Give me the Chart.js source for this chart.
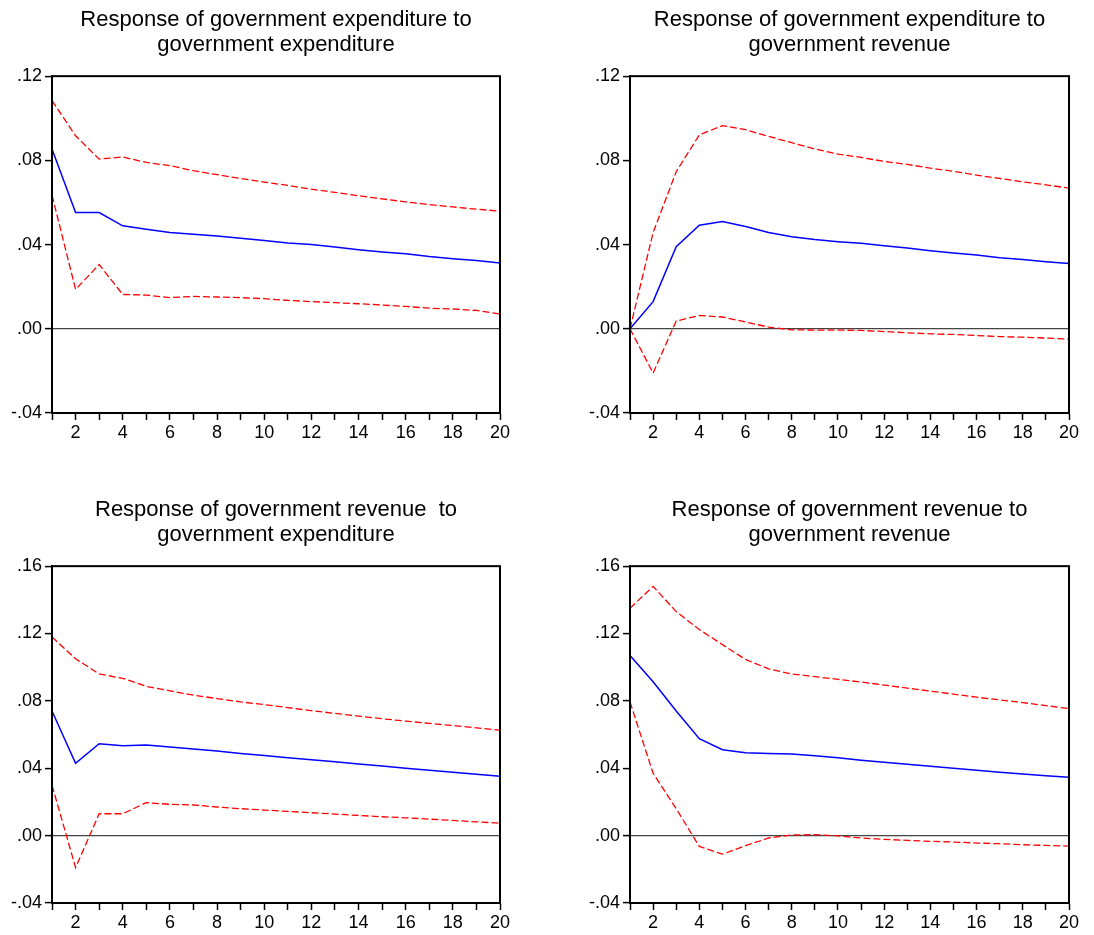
<!DOCTYPE html>
<html><head><meta charset="utf-8">
<script src="https://cdn.jsdelivr.net/npm/chart.js@4.4.1/dist/chart.umd.min.js"></script>
<style>
html,body{margin:0;padding:0;background:#fff;}
#wrap{position:relative;width:1094px;height:935px;overflow:hidden;}
canvas{position:absolute;}
</style></head><body>
<div id="wrap">
<canvas id="c1" width="547" height="445" style="left:0px;top:0px"></canvas>
<canvas id="c2" width="547" height="445" style="left:547px;top:0px"></canvas>
<canvas id="c3" width="547" height="445" style="left:0px;top:490px"></canvas>
<canvas id="c4" width="547" height="445" style="left:547px;top:490px"></canvas>
</div>
<script>
const periods = [1,2,3,4,5,6,7,8,9,10,11,12,13,14,15,16,17,18,19,20];
const xTickLabels = ['','2','','4','','6','','8','','10','','12','','14','','16','','18','','20'];
const yTickLabelsTop = ['-.04','.00','.04','.08','.12'];
const yTickLabelsBottom = ['-.04','.00','.04','.08','.12','.16'];

const titleGeGe = ['Response of government expenditure to', 'government expenditure'];
const titleGeGr = ['Response of government expenditure to', 'government revenue'];
const titleGrGe = ['Response of government revenue  to', 'government expenditure'];
const titleGrGr = ['Response of government revenue to', 'government revenue'];

// Response of government expenditure to government expenditure
const geGeResp  = [0.0854,0.0552,0.0552,0.0489,0.0473,0.0457,0.0449,0.0441,0.0430,0.0419,0.0408,0.0400,0.0389,0.0376,0.0365,0.0356,0.0343,0.0333,0.0324,0.0313];
const geGeUpper = [0.1084,0.0917,0.0806,0.0816,0.0790,0.0775,0.0751,0.0732,0.0714,0.0697,0.0681,0.0663,0.0648,0.0632,0.0617,0.0603,0.0590,0.0579,0.0568,0.0559];
const geGeLower = [0.0635,0.0187,0.0305,0.0163,0.0160,0.0148,0.0154,0.0151,0.0148,0.0143,0.0135,0.0129,0.0124,0.0119,0.0113,0.0106,0.0098,0.0094,0.0087,0.0070];

// Response of government expenditure to government revenue
const geGrResp  = [0.0000,0.0129,0.0390,0.0492,0.0510,0.0486,0.0457,0.0437,0.0424,0.0414,0.0406,0.0394,0.0384,0.0371,0.0360,0.0351,0.0338,0.0329,0.0319,0.0310];
const geGrUpper = [0.0000,0.0457,0.0746,0.0921,0.0965,0.0946,0.0914,0.0884,0.0854,0.0830,0.0814,0.0795,0.0781,0.0763,0.0748,0.0730,0.0714,0.0698,0.0684,0.0668];
const geGrLower = [0.0000,-0.0210,0.0037,0.0063,0.0056,0.0032,0.0008,-0.0005,-0.0006,-0.0006,-0.0008,-0.0013,-0.0019,-0.0024,-0.0027,-0.0032,-0.0037,-0.0040,-0.0044,-0.0049];

// Response of government revenue to government expenditure
const grGeResp  = [0.0740,0.0430,0.0546,0.0534,0.0538,0.0526,0.0514,0.0502,0.0488,0.0476,0.0462,0.0450,0.0438,0.0426,0.0414,0.0400,0.0388,0.0376,0.0364,0.0352];
const grGeUpper = [0.1180,0.1050,0.0960,0.0934,0.0886,0.0860,0.0834,0.0814,0.0794,0.0778,0.0760,0.0742,0.0726,0.0710,0.0694,0.0680,0.0666,0.0654,0.0640,0.0626];
const grGeLower = [0.0300,-0.0190,0.0130,0.0130,0.0196,0.0186,0.0182,0.0170,0.0160,0.0152,0.0144,0.0136,0.0128,0.0120,0.0112,0.0106,0.0098,0.0090,0.0082,0.0074];

// Response of government revenue to government revenue
const grGrResp  = [0.1070,0.0914,0.0740,0.0576,0.0510,0.0492,0.0488,0.0484,0.0474,0.0462,0.0448,0.0436,0.0424,0.0412,0.0400,0.0388,0.0376,0.0366,0.0356,0.0346];
const grGrUpper = [0.1350,0.1480,0.1330,0.1224,0.1134,0.1046,0.0990,0.0960,0.0944,0.0928,0.0912,0.0894,0.0876,0.0858,0.0840,0.0822,0.0806,0.0790,0.0772,0.0754];
const grGrLower = [0.0794,0.0370,0.0160,-0.0064,-0.0110,-0.0060,-0.0014,0.0004,0.0006,-0.0002,-0.0014,-0.0022,-0.0028,-0.0034,-0.0038,-0.0044,-0.0048,-0.0054,-0.0058,-0.0062];

Chart.defaults.font.family = "'Liberation Sans', Arial, Helvetica, sans-serif";
Chart.defaults.color = '#000';

const framePlugin = {
  id: 'frame',
  afterDatasetsDraw(chart) {
    const a = chart.chartArea, ctx = chart.ctx;
    ctx.save();
    ctx.strokeStyle = '#000';
    ctx.lineWidth = 2;
    ctx.strokeRect(a.left, a.top, a.right - a.left, a.bottom - a.top);
    ctx.restore();
  }
};

function makePanel(id, title, resp, upper, lower, yMax, yLabels, padLeft, padRight) {
  new Chart(document.getElementById(id), {
    type: 'line',
    data: {
      labels: periods,
      datasets: [
        { data: upper, borderColor: '#ff0000', borderWidth: 1.3, borderDash: [7, 3], pointRadius: 0, tension: 0, fill: false },
        { data: lower, borderColor: '#ff0000', borderWidth: 1.3, borderDash: [7, 3], pointRadius: 0, tension: 0, fill: false },
        { data: resp, borderColor: '#0000ff', borderWidth: 1.5, pointRadius: 0, tension: 0, fill: false }
      ]
    },
    options: {
      responsive: false,
      animation: false,
      devicePixelRatio: 1,
      layout: { padding: { left: padLeft, right: padRight, top: 0, bottom: 2 } },
      plugins: {
        legend: { display: false },
        tooltip: { enabled: false },
        title: {
          display: true,
          text: title,
          fullSize: false,
          color: '#000',
          font: { size: 22, weight: 'normal', lineHeight: 1.14 },
          padding: { top: 7, bottom: 19 }
        }
      },
      scales: {
        x: {
          type: 'category',
          offset: false,
          grid: { display: true, drawOnChartArea: false, drawTicks: true, tickLength: 7, tickColor: '#000', tickWidth: 1.5 },
          border: { display: true, color: '#000', width: 2 },
          ticks: {
            autoSkip: false, maxRotation: 0, minRotation: 0, padding: 2, color: '#000',
            font: { size: 18 },
            callback: (v, i) => xTickLabels[i]
          },
          afterFit: s => { s.height = 30; }
        },
        y: {
          type: 'linear',
          min: -0.04,
          max: yMax,
          grid: {
            drawTicks: true, tickLength: 7, tickColor: '#000', tickWidth: 1.5,
            color: c => (c.tick && Math.abs(c.tick.value) < 1e-9) ? '#444' : 'rgba(0,0,0,0)',
            lineWidth: 1.2
          },
          border: { display: true, color: '#000', width: 2 },
          ticks: {
            stepSize: 0.04, padding: 3, color: '#000',
            font: { size: 18 },
            callback: (v, i) => yLabels[i]
          },
          afterFit: s => { s.width = 50; }
        }
      }
    },
    plugins: [framePlugin]
  });
}

makePanel('c1', titleGeGe, geGeResp, geGeUpper, geGeLower, 0.12, yTickLabelsTop, 2, 47);
makePanel('c2', titleGeGr, geGrResp, geGrUpper, geGrLower, 0.12, yTickLabelsTop, 33, 25);
makePanel('c3', titleGrGe, grGeResp, grGeUpper, grGeLower, 0.16, yTickLabelsBottom, 2, 47);
makePanel('c4', titleGrGr, grGrResp, grGrUpper, grGrLower, 0.16, yTickLabelsBottom, 33, 25);
</script>
</body></html>
